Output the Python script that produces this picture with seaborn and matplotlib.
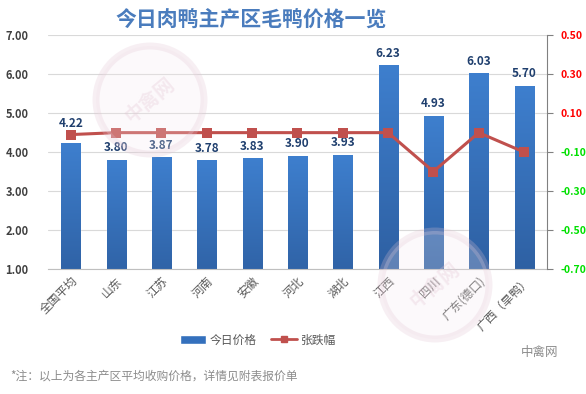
import matplotlib
matplotlib.use("Agg")
import matplotlib.pyplot as plt
import numpy as np
import pandas as pd
import seaborn as sns
from matplotlib.patches import Ellipse, Patch
from matplotlib.lines import Line2D

regions = ['全国平均', '山东', '江苏', '河南', '安徽', '河北', '湖北', '江西', '四川', '广东(德口)', '广西（旱鸭）']
price = [4.22, 3.80, 3.87, 3.78, 3.83, 3.90, 3.93, 6.23, 4.93, 6.03, 5.70]
change = [-0.01, 0.00, 0.00, 0.00, 0.00, 0.00, 0.00, 0.00, -0.20, 0.00, -0.10]

left_ticks = [1, 2, 3, 4, 5, 6, 7]
right_ticks = [-0.7, -0.5, -0.3, -0.1, 0.1, 0.3, 0.5]

df = pd.DataFrame({'region': regions, 'price': price, 'change': change})

sns.set_style("white")
plt.rcParams['font.family'] = ['Noto Sans CJK SC', 'DejaVu Sans']

fig = plt.figure(figsize=(5.86, 3.94), dpi=100)
ax = fig.add_axes([0.082, 0.318, 0.851, 0.592])

sns.barplot(data=df, x='region', y='price', ax=ax, width=0.42,
            color='#3a78c8', saturation=1, zorder=2)
ax.set_xlim(-0.5, len(regions) - 0.5)
ax.set_ylim(1, 7)

# gradient fill for the bars (light on top, darker at the base)
grad = np.linspace(0, 1, 256).reshape(-1, 1)
cmap = matplotlib.colors.LinearSegmentedColormap.from_list('b', ['#3e7fce', '#2b5a9a'])
for p in ax.patches:
    x0, y0 = p.get_x(), p.get_y()
    w, h = p.get_width(), p.get_height()
    ax.imshow(grad, extent=[x0, x0 + w, y0, y0 + h], aspect='auto', cmap=cmap,
              zorder=2.1, origin='upper')
    p.set_facecolor('none')
ax.set_xlim(-0.5, len(regions) - 0.5)
ax.set_ylim(1, 7)

for i, p in enumerate(ax.patches):
    pad = 10 if i == 0 else 4
    ax.annotate(f'{price[i]:.2f}', (p.get_x() + p.get_width() / 2, p.get_y() + p.get_height()),
                xytext=(0, pad), textcoords='offset points', ha='center', va='bottom',
                fontsize=8.5, fontweight='bold', color='#1f3f6e', zorder=5)

ax.set_yticks(left_ticks)
ax.set_yticklabels([f'{v:.2f}' for v in left_ticks], fontsize=8, fontweight='bold', color='#404040')
ax.grid(axis='y', color='#d9d9d9', linewidth=0.8, zorder=0)
ax.set_axisbelow(True)
ax.set_xlabel('')
ax.set_ylabel('')
ax.set_xticks(range(len(regions)))
ax.set_xticklabels(regions, rotation=45, ha='right', rotation_mode='anchor',
                   fontsize=8.5, color='#595959')
ax.tick_params(axis='x', length=0, pad=4)
ax.tick_params(axis='y', length=0, pad=14)
for s in ['top', 'left', 'right']:
    ax.spines[s].set_visible(False)
ax.spines['bottom'].set_color('#bfbfbf')

ax2 = ax.twinx()
sns.lineplot(x=np.arange(len(regions)), y=change, ax=ax2, color='#c0504d',
             linewidth=2.2, marker='s', markersize=7, markeredgewidth=0, zorder=4)
ax2.set_ylim(-0.7, 0.5)
ax2.set_yticks(right_ticks)
ax2.set_yticklabels([f'{v:.2f}' for v in right_ticks], fontsize=7.5, fontweight='bold')
for t, v in zip(ax2.get_yticklabels(), right_ticks):
    t.set_color('#ff0000' if v > 0 else '#00e000')
ax2.tick_params(axis='y', length=4, color='#808080', pad=6)
for s in ['top', 'left', 'bottom']:
    ax2.spines[s].set_visible(False)
ax2.spines['right'].set_color('#808080')
ax2.set_ylabel('')

# faint watermark
for cx, cy in [(150, 100), (435, 285)]:
    fig.add_artist(Ellipse((cx / 586, 1 - cy / 394), 108 / 586, 108 / 394,
                           facecolor='#f6eaf0', alpha=0.25, edgecolor='#e2c3d2',
                           linewidth=5, zorder=10))
    fig.text(cx / 586, 1 - cy / 394, '中禽网', rotation=40, fontsize=14, fontweight='bold',
             color='#e2c3d2', alpha=0.3, ha='center', va='center', zorder=10)

fig.text(251 / 586, 1 - 20 / 394, '今日肉鸭主产区毛鸭价格一览', ha='center', va='center',
         fontsize=15, fontweight='bold', color='#4a7cbd')

handles = [Patch(facecolor='#3470bd'),
           Line2D([0], [0], color='#c0504d', linewidth=2, marker='s', markersize=5)]
fig.legend(handles, ['今日价格', '张跌幅'], loc='center', bbox_to_anchor=(258 / 586, 1 - 340 / 394),
           ncol=2, frameon=False, fontsize=8.5, handlelength=2.2, columnspacing=1.2,
           handletextpad=0.3, labelcolor='#595959')

fig.text(10 / 586, 1 - 376 / 394, '*注：以上为各主产区平均收购价格，详情见附表报价单',
         fontsize=8.5, color='#8c8c8c', va='center')
fig.text(540 / 586, 1 - 352 / 394, '中禽网', fontsize=9, color='#8c8c8c', va='center', ha='center')

fig.savefig('out.png', dpi=100)
